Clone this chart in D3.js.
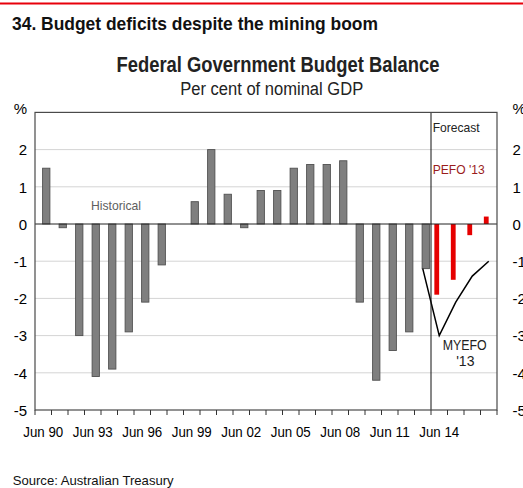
<!DOCTYPE html>
<html>
<head>
<meta charset="utf-8">
<script src="https://cdn.jsdelivr.net/npm/d3@7"></script>
<style>
  html, body { margin: 0; padding: 0; background: #fff; }
  svg { display: block; }
  text { font-family: "Liberation Sans Narrow", "Liberation Sans", Arial, sans-serif; }
</style>
</head>
<body>
<svg id="chart" width="523" height="488"></svg>
<script>
// Financial years ending June, 1990 to 2017
const categories = ["Jun 90","Jun 91","Jun 92","Jun 93","Jun 94","Jun 95","Jun 96","Jun 97",
  "Jun 98","Jun 99","Jun 00","Jun 01","Jun 02","Jun 03","Jun 04","Jun 05","Jun 06","Jun 07",
  "Jun 08","Jun 09","Jun 10","Jun 11","Jun 12","Jun 13","Jun 14","Jun 15","Jun 16","Jun 17"];

// Underlying balance, per cent of nominal GDP
const historicalYears = categories.slice(0, 24);
const historicalValues = [1.5, -0.1, -3.0, -4.1, -3.9, -2.9, -2.1, -1.1, 0.0, 0.6, 2.0, 0.8,
  -0.1, 0.9, 0.9, 1.5, 1.6, 1.6, 1.7, -2.1, -4.2, -3.4, -2.9, -1.2];

const pefoYears = ["Jun 14","Jun 15","Jun 16","Jun 17"];
const pefoValues = [-1.9, -1.5, -0.3, 0.2];

const myefoYears = ["Jun 13","Jun 14","Jun 15","Jun 16","Jun 17"];
const myefoValues = [-1.2, -3.0, -2.1, -1.4, -1.0];

const tickLabels = ["Jun 90","Jun 93","Jun 96","Jun 99","Jun 02","Jun 05","Jun 08","Jun 11","Jun 14"];
const yTicks = [3, 2, 1, 0, -1, -2, -3, -4, -5];
const forecastStart = "Jun 14";

const svg = d3.select("#chart");
const W = 523, H = 488;
const plot = { left: 35, right: 497, top: 112.4, bottom: 410 };

const x = d3.scaleBand().domain(categories).range([plot.left, plot.right]).padding(0);
const y = d3.scaleLinear().domain([-5, 3]).range([plot.bottom, plot.top]);

// Red rule across the top of the panel
svg.append("line")
  .attr("x1", 0).attr("x2", W).attr("y1", 3.5).attr("y2", 3.5)
  .attr("stroke", "#e8000b").attr("stroke-width", 2);

// Panel heading
svg.append("text")
  .attr("x", 12).attr("y", 29.5)
  .attr("font-size", 19).attr("font-weight", "bold").attr("fill", "#111")
  .attr("textLength", 366).attr("lengthAdjust", "spacingAndGlyphs")
  .text("34. Budget deficits despite the mining boom");

// Chart titles
svg.append("text")
  .attr("x", 278).attr("y", 71.7).attr("text-anchor", "middle")
  .attr("font-size", 22).attr("font-weight", "bold").attr("fill", "#222")
  .attr("textLength", 323).attr("lengthAdjust", "spacingAndGlyphs")
  .text("Federal Government Budget Balance");
svg.append("text")
  .attr("x", 271.7).attr("y", 95).attr("text-anchor", "middle")
  .attr("font-size", 18).attr("fill", "#222")
  .attr("textLength", 183).attr("lengthAdjust", "spacingAndGlyphs")
  .text("Per cent of nominal GDP");

// Horizontal gridlines
svg.append("g")
  .selectAll("line")
  .data(yTicks.filter(d => d !== 0 && d !== 3 && d !== -5))
  .join("line")
  .attr("x1", plot.left).attr("x2", plot.right)
  .attr("y1", d => y(d)).attr("y2", d => y(d))
  .attr("stroke", "#d4d4d4").attr("stroke-width", 1);

// Historical bars
const histOffset = 3;
const histWidth = 7.3;
svg.append("g")
  .selectAll("rect")
  .data(historicalYears.map((c, i) => ({ c, v: historicalValues[i] })).filter(d => d.v !== 0))
  .join("rect")
  .attr("x", d => x(d.c) + x.bandwidth() / 2 + histOffset - histWidth / 2)
  .attr("width", histWidth)
  .attr("y", d => y(Math.max(0, d.v)))
  .attr("height", d => Math.abs(y(d.v) - y(0)))
  .attr("fill", "#7f7f7f").attr("stroke", "#505050").attr("stroke-width", 0.9);

// PEFO forecast bars
const pefoOffset = -2.5;
const pefoWidth = 4.8;
svg.append("g")
  .selectAll("rect")
  .data(pefoYears.map((c, i) => ({ c, v: pefoValues[i] })))
  .join("rect")
  .attr("x", d => x(d.c) + x.bandwidth() / 2 + pefoOffset - pefoWidth / 2)
  .attr("width", pefoWidth)
  .attr("y", d => y(Math.max(0, d.v)))
  .attr("height", d => Math.abs(y(d.v) - y(0)))
  .attr("fill", "#e60000");

// Zero line
svg.append("line")
  .attr("x1", plot.left).attr("x2", plot.right)
  .attr("y1", y(0)).attr("y2", y(0))
  .attr("stroke", "#222").attr("stroke-width", 1);

// MYEFO projection
svg.append("path")
  .datum(myefoYears.map((c, i) => ({ c, v: myefoValues[i] })))
  .attr("fill", "none").attr("stroke", "#000").attr("stroke-width", 1.5)
  .attr("d", d3.line().x(d => x(d.c) + x.bandwidth() / 2).y(d => y(d.v)));

// Forecast divider
svg.append("line")
  .attr("x1", x(forecastStart)).attr("x2", x(forecastStart))
  .attr("y1", plot.top).attr("y2", plot.bottom)
  .attr("stroke", "#111").attr("stroke-width", 1);

// Panel frame
svg.append("rect")
  .attr("x", plot.left).attr("y", plot.top)
  .attr("width", plot.right - plot.left).attr("height", plot.bottom - plot.top)
  .attr("fill", "none").attr("stroke", "#4a4a4a").attr("stroke-width", 1.2);

// Y axes
const yFmt = d => d === 3 ? "%" : String(d);
const leftAxis = svg.append("g")
  .attr("transform", `translate(${plot.left},0)`)
  .call(d3.axisLeft(y).tickValues(yTicks).tickSize(0).tickPadding(8).tickFormat(yFmt));
const rightAxis = svg.append("g")
  .attr("transform", `translate(${plot.right},0)`)
  .call(d3.axisRight(y).tickValues(yTicks).tickSize(0).tickPadding(15.5).tickFormat(yFmt));
[leftAxis, rightAxis].forEach(g => {
  g.select(".domain").remove();
  g.selectAll("text")
    .attr("font-size", 15).attr("fill", "#000")
    .attr("font-family", "\"Liberation Sans\", Arial, sans-serif")
    .attr("dy", d => d === 3 ? "0.1em" : "0.35em");
});

// X axis: tick marks on band edges, labels every third year
const edges = categories.map(c => x(c)).concat([plot.right]);
svg.append("g")
  .selectAll("line")
  .data(edges)
  .join("line")
  .attr("x1", d => d).attr("x2", d => d)
  .attr("y1", plot.bottom).attr("y2", plot.bottom + 5)
  .attr("stroke", "#333").attr("stroke-width", 1);
svg.append("g")
  .selectAll("text")
  .data(tickLabels)
  .join("text")
  .attr("x", d => x(d) + x.bandwidth() / 2)
  .attr("y", 436.7)
  .attr("text-anchor", "middle")
  .attr("font-size", 15).attr("fill", "#000")
  .attr("textLength", 40).attr("lengthAdjust", "spacingAndGlyphs")
  .text(d => d);

// Annotations
svg.append("text")
  .attr("x", 116).attr("y", 210).attr("text-anchor", "middle")
  .attr("font-size", 13).attr("fill", "#5e5e5e")
  .attr("textLength", 50).attr("lengthAdjust", "spacingAndGlyphs")
  .text("Historical");
svg.append("text")
  .attr("x", 432.7).attr("y", 131.7)
  .attr("font-size", 13).attr("fill", "#222")
  .attr("textLength", 47).attr("lengthAdjust", "spacingAndGlyphs")
  .text("Forecast");
svg.append("text")
  .attr("x", 432.7).attr("y", 174)
  .attr("font-size", 13).attr("fill", "#9a1c1c")
  .attr("textLength", 52).attr("lengthAdjust", "spacingAndGlyphs")
  .text("PEFO '13");
svg.append("text")
  .attr("x", 464.7).attr("y", 350).attr("text-anchor", "middle")
  .attr("font-size", 14).attr("fill", "#222")
  .attr("textLength", 44).attr("lengthAdjust", "spacingAndGlyphs")
  .text("MYEFO");
svg.append("text")
  .attr("x", 465.3).attr("y", 366).attr("text-anchor", "middle")
  .attr("font-size", 14).attr("fill", "#222")
  .text("'13");

// Source note
svg.append("text")
  .attr("x", 12.7).attr("y", 485)
  .attr("font-size", 13).attr("fill", "#111")
  .attr("textLength", 161).attr("lengthAdjust", "spacingAndGlyphs")
  .text("Source: Australian Treasury");
</script>
</body>
</html>
